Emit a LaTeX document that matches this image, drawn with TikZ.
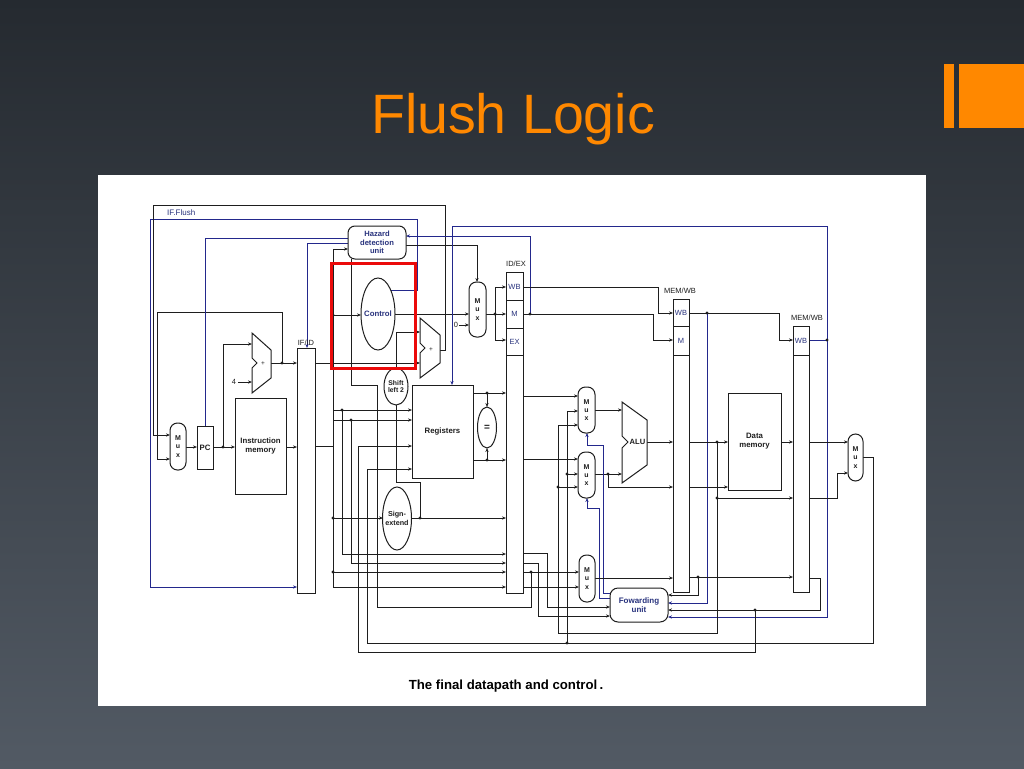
\documentclass[tikz,border=0pt]{standalone}
\usepackage{fontspec}
\setmainfont{Liberation Sans}
\usetikzlibrary{shapes.geometric,arrows.meta}
\definecolor{bgtop}{RGB}{37,42,48}
\definecolor{bgbot}{RGB}{82,90,100}
\definecolor{orng}{RGB}{255,136,0}
\definecolor{wirec}{RGB}{30,30,30}
\definecolor{bluec}{RGB}{35,40,140}
\definecolor{tblue}{RGB}{40,50,125}
\definecolor{redb}{RGB}{235,10,10}
\newcommand\jdot[1]{\fill[wirec] (#1) circle (1.6pt);}
\tikzset{
  wire/.style={draw=wirec,line width=1pt},
  bwire/.style={draw=bluec,line width=1pt},
  arrowed/.style={-{Stealth[length=4pt,width=3.2pt]}},
  comp/.style={draw=wirec,line width=1pt,fill=white,inner sep=0pt,text=wirec,
    font=\fontsize{7.8}{8.8}\selectfont\bfseries,align=center},
  muxs/.style={comp,rounded corners=7.5pt,minimum width=17pt,minimum height=46pt,
    font=\fontsize{7}{8.2}\selectfont\bfseries},
  oval/.style={comp,ellipse},
  pipe/.style={comp},
  intext/.style={inner sep=0pt,align=center,text=wirec},
  lbl/.style={inner sep=0pt,text=wirec,font=\fontsize{7.5}{8}\selectfont},
  blbl/.style={inner sep=0pt,text=tblue,font=\fontsize{7.5}{8}\selectfont},
}
\begin{document}
\begin{tikzpicture}[x=1pt,y=-1pt]
\useasboundingbox (0,0) rectangle (1024,768);
\shade[top color=bgtop,bottom color=bgbot] (0,0) rectangle (1024,768);
\node[anchor=base,inner sep=0pt,text=orng,font=\fontsize{55.5}{60}\selectfont] (title) at (513,133) {Flush Logic};
\fill[orng] (944,64) rectangle (954,128);
\fill[orng] (959,64) rectangle (1024,128);
\fill[white] (98,175) rectangle (926,706);

% ---------------- wires ----------------
% IF.Flush
\draw[bwire,arrowed] (391,290) -- (417,290) -- (417,219) -- (150,219) -- (150,587) -- (297,587);
% branch target to PC mux
\draw[wire,arrowed] (440,350) -- (445,350) -- (445,205) -- (153,205) -- (153,435) -- (170,435);
% PC+4 back to PC mux
\draw[wire,arrowed] (282,363) -- (282,312) -- (157,312) -- (157,459) -- (170,459);
\draw[wire,arrowed] (186,447) -- (197,447);
\draw[wire,arrowed] (213,447) -- (235,447);
\draw[wire,arrowed] (223,447) -- (223,344) -- (252,344);
\node[lbl] (four) at (234,382) {4};
\draw[wire,arrowed] (four.east) ++(2,0) -- (252,382);
\draw[wire,arrowed] (271,363) -- (297,363);
\draw[wire,arrowed] (286,447) -- (297,447);
% PCWrite, IF/IDWrite
\draw[bwire] (348,238) -- (205,238) -- (205,426);
\draw[bwire,arrowed] (348,243) -- (307,243) -- (307,348);
% IF/ID instruction bus
\draw[wire] (315,446) -- (333,446);
\draw[wire] (333,249) -- (333,587);
\draw[wire,arrowed] (333,249) -- (348,249);
\draw[wire,arrowed] (333,315) -- (361,315);
\draw[wire,arrowed] (395,314) -- (469,314);
\draw[wire,arrowed] (406,245) -- (477,245) -- (477,282);
\node[lbl] (zero) at (456,325) {0};
\draw[wire,arrowed] (zero.east) ++(1,0) -- (469,325);
\draw[wire] (486,314) -- (495,314);
\draw[wire] (495,287) -- (495,340);
\draw[wire,arrowed] (495,287) -- (506,287);
\draw[wire,arrowed] (495,314) -- (506,314);
\draw[wire,arrowed] (495,340) -- (506,340);
% MemRead to hazard unit
\draw[bwire,arrowed] (530,314) -- (530,236) -- (406,236);
% control pipeline
\draw[wire,arrowed] (523,287) -- (658,287) -- (658,313) -- (673,313);
\draw[wire,arrowed] (523,314) -- (653,314) -- (653,340) -- (673,340);
\draw[wire,arrowed] (689,313) -- (779,313) -- (779,340) -- (793,340);
\draw[bwire,arrowed] (707,313) -- (707,603) -- (668,603);
% RegWrite
\draw[bwire] (809,340) -- (827,340);
\draw[bwire,arrowed] (827,226) -- (827,617) -- (668,617);
\draw[bwire,arrowed] (827,226) -- (452,226) -- (452,385);
% shift left 2 and branch adder
\draw[wire,arrowed] (396,368) -- (396,332) -- (420,332);
\draw[wire,arrowed] (315,363) -- (420,363);
% ID/EX.RegisterRt to hazard unit
\draw[wire] (351,259) -- (351,385) -- (377,385) -- (377,607) -- (531,607) -- (531,572);
% register file inputs
\draw[wire,arrowed] (333,410) -- (412,410);
\draw[wire,arrowed] (342,410) -- (342,554) -- (506,554);
\draw[wire,arrowed] (333,420) -- (412,420);
\draw[wire,arrowed] (351,420) -- (351,563) -- (506,563);
\draw[wire,arrowed] (358,652) -- (358,446) -- (412,446);
\draw[wire,arrowed] (367,643) -- (367,469) -- (412,469);
\draw[wire,arrowed] (333,518) -- (383,518);
\draw[wire,arrowed] (411,518) -- (506,518);
\draw[wire] (420,518) -- (420,482) -- (396,482) -- (396,405);
\draw[wire,arrowed] (333,572) -- (506,572);
\draw[wire,arrowed] (333,587) -- (506,587);
% register outputs
\draw[wire,arrowed] (473,393) -- (506,393);
\draw[wire,arrowed] (473,460) -- (506,460);
\draw[wire,arrowed] (487,393) -- (487,407);
\draw[wire,arrowed] (487,460) -- (487,448);
% EX stage
\draw[wire,arrowed] (523,396) -- (578,396);
\draw[wire,arrowed] (523,459) -- (578,459);
\draw[wire,arrowed] (595,410) -- (622,410);
\draw[wire,arrowed] (595,474) -- (622,474);
\draw[wire,arrowed] (608,474) -- (608,487) -- (673,487);
\draw[wire,arrowed] (647,442) -- (673,442);
\draw[wire,arrowed] (567,643) -- (567,411) -- (578,411);
\draw[wire,arrowed] (567,474) -- (578,474);
\draw[wire,arrowed] (558,633) -- (558,425) -- (578,425);
\draw[wire,arrowed] (558,487) -- (578,487);
\draw[bwire,arrowed] (610,593) -- (603,593) -- (603,445) -- (587,445) -- (587,433);
\draw[bwire,arrowed] (610,598) -- (599,598) -- (599,508) -- (587,508) -- (587,498);
\draw[wire,arrowed] (523,553) -- (547,553) -- (547,607) -- (610,607);
\draw[wire,arrowed] (523,563) -- (538,563) -- (538,616) -- (610,616);
\draw[wire,arrowed] (523,572) -- (579,572);
\draw[wire,arrowed] (523,587) -- (579,587);
\draw[wire,arrowed] (595,578) -- (673,578);
% MEM stage
\draw[wire,arrowed] (689,442) -- (728,442);
\draw[wire] (717,442) -- (717,633) -- (558,633);
\draw[wire,arrowed] (717,498) -- (793,498);
\draw[wire,arrowed] (689,487) -- (728,487);
\draw[wire,arrowed] (689,577) -- (793,577);
\draw[wire,arrowed] (698,577) -- (698,595) -- (668,595);
\draw[wire,arrowed] (781,442) -- (793,442);
% WB stage
\draw[wire,arrowed] (809,442) -- (848,442);
\draw[wire,arrowed] (809,498) -- (837,498) -- (837,473) -- (848,473);
\draw[wire,arrowed] (809,578) -- (820,578) -- (820,610) -- (668,610);
\draw[wire] (755,610) -- (755,652) -- (358,652);
\draw[wire] (863,457) -- (873,457) -- (873,643) -- (367,643);

% junction dots
\foreach \p in {{282,363},{223,447},{333,315},{495,314},{530,314},{707,313},{827,340},
  {342,410},{351,420},{333,518},{333,572},{420,518},{487,393},{487,460},{608,474},
  {567,474},{558,487},{531,572},{717,442},{717,498},{698,577},{755,610},{567,643}}
  {\jdot{\p}}

% ---------------- components ----------------
\node[muxs,minimum width=16pt,minimum height=47pt] (pcmux) at (178,446.5) {M\\u\\x};
\node[comp,minimum width=16pt,minimum height=43pt] (pc) at (205,447.5) {PC};
\node[comp,minimum width=51pt,minimum height=96pt] (imem) at (260.5,446) {Instruction\\memory};
\node[pipe,minimum width=18pt,minimum height=245pt] (ifid) at (306,470.5) {};
\draw[comp] (252,333) -- (271,350) -- (271,378) -- (252,393) -- (252,368) -- (257,363) -- (252,358) -- cycle;
\node[lbl,font=\fontsize{6.5}{6.5}\selectfont] (plus1) at (263,364) {+};
\draw[comp] (420,318) -- (440,335) -- (440,363) -- (420,378) -- (420,353) -- (425,348) -- (420,343) -- cycle;
\node[lbl,font=\fontsize{6.5}{6.5}\selectfont] (plus2) at (431,350) {+};
\node[comp,rounded corners=7pt,minimum width=58pt,minimum height=33pt,text=tblue,
  font=\fontsize{7.6}{8.6}\selectfont\bfseries] (hdu) at (377,242.5) {Hazard\\detection\\unit};
\node[oval,minimum width=34pt,minimum height=72pt] (ctrl) at (378,314) {};
\node[intext,text=tblue,font=\fontsize{7.8}{8}\selectfont\bfseries] (ctrltxt) at (ctrl.center) {Control};
\node[muxs,minimum height=55pt] (mux0) at (477.5,309.5) {M\\u\\x};
\node[pipe,minimum width=17pt,minimum height=321pt] (idex) at (514.5,432.5) {};
\node[oval,minimum width=24pt,minimum height=37pt] (shl) at (396,386.5) {};
\node[intext,font=\fontsize{6.8}{7.6}\selectfont\bfseries] (shltxt) at (shl.center) {Shift\\left 2};
\node[comp,minimum width=61pt,minimum height=93pt] (regs) at (442.5,431.5) {Registers};
\node[oval,minimum width=19pt,minimum height=41pt] (eq) at (487,427.5) {};
\node[intext,font=\fontsize{10}{10}\selectfont\bfseries] (eqtxt) at (eq.center) {=};
\node[oval,minimum width=29pt,minimum height=63pt] (sext) at (397,518.5) {};
\node[intext,font=\fontsize{7.2}{8.4}\selectfont\bfseries] (sexttxt) at (sext.center) {Sign-\\extend};
\node[muxs] (muxa) at (586.5,410) {M\\u\\x};
\node[muxs] (muxb) at (586.5,475) {M\\u\\x};
\node[muxs,minimum width=16pt,minimum height=47pt] (muxc) at (587,578.5) {M\\u\\x};
\draw[comp] (622,402) -- (647,420) -- (647,465) -- (622,483) -- (622,448) -- (628,442) -- (622,436) -- cycle;
\node[lbl,font=\fontsize{7.6}{8}\selectfont\bfseries] (alu) at (637.5,442) {ALU};
\node[comp,rounded corners=8pt,minimum width=58pt,minimum height=34pt,text=tblue,
  font=\fontsize{8}{9.4}\selectfont\bfseries] (fwd) at (639,605) {Fowarding\\unit};
\node[pipe,minimum width=16pt,minimum height=293pt] (exmem) at (681,445.5) {};
\node[comp,minimum width=53pt,minimum height=97pt] (dmem) at (754.5,441.5) {Data\\memory};
\node[pipe,minimum width=16pt,minimum height=266pt] (memwb) at (801,459) {};
\node[muxs,minimum width=15pt,minimum height=47pt] (wbmux) at (855.5,457.5) {M\\u\\x};

% pipeline register sections
\draw[wire] (506,300) -- (523,300);
\draw[wire] (506,328) -- (523,328);
\draw[wire] (506,355) -- (523,355);
\node[blbl] (idexwb) at (514.5,286.5) {WB};
\node[blbl] (idexm) at (514.5,314) {M};
\node[blbl] (idexex) at (514.5,341.5) {EX};
\draw[wire] (673,326) -- (689,326);
\draw[wire] (673,355) -- (689,355);
\node[blbl] (exmemwb) at (681,312.5) {WB};
\node[blbl] (exmemm) at (681,340.5) {M};
\draw[wire] (793,355) -- (809,355);
\node[blbl] (memwbwb) at (801,340.5) {WB};

% labels
\node[blbl,anchor=west,font=\fontsize{8}{8}\selectfont] (flushlbl) at (167,212.5) {IF.Flush};
\node[lbl] (ifidlbl) at (306,343) {IF/ID};
\node[lbl] (idexlbl) at (516,264) {ID/EX};
\node[lbl] (exmemlbl) at (680,291) {MEM/WB};
\node[lbl] (memwblbl) at (807,317.5) {MEM/WB};
\node[anchor=base,inner sep=0pt,font=\fontsize{13.2}{14}\selectfont\bfseries] (caption) at (506,689) {The final datapath and control\,.};

% highlight
\draw[redb,line width=3pt] (331,263) rectangle (415,368);
\end{tikzpicture}
\end{document}
